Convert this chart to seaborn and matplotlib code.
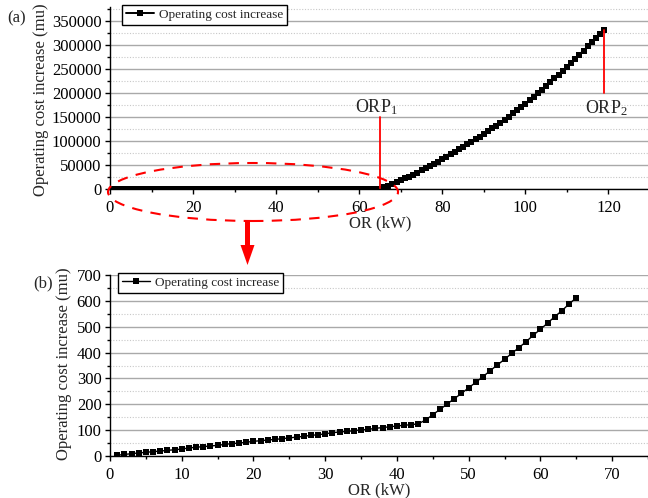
"""Operating cost increase vs OR, full range (a) and zoomed low range (b)."""

import matplotlib
matplotlib.use("Agg")
import matplotlib.pyplot as plt
import numpy as np
import pandas as pd
import seaborn as sns
from matplotlib.patches import Ellipse, FancyArrow
from matplotlib.ticker import MultipleLocator

sns.set_theme(style="ticks")
plt.rcParams["font.family"] = ["Liberation Serif", "DejaVu Serif"]
plt.rcParams.update({
    "mathtext.fontset": "custom",
    "mathtext.rm": "Liberation Serif",
    "mathtext.it": "Liberation Serif:italic",
    "mathtext.default": "rm",
    "axes.edgecolor": "black",
    "axes.linewidth": 1.0,
})

# low range (b): OR 1..65 kW, cost in mu
or_low = list(range(1, 66))
cost_low = [3, 6, 9, 12, 14, 17, 19, 22, 24, 27, 31, 34, 36, 39, 41, 45, 48, 50,
            53, 57, 59, 62, 64, 67, 70, 73, 76, 80, 82, 86, 90, 93, 95, 98, 101,
            103, 107, 110, 113, 116, 119, 121, 125, 139, 160, 180, 201, 222, 242,
            264, 285, 307, 330, 352, 374, 397, 419, 442, 467, 490, 514, 539, 562,
            588, 612]

# high range part of (a): OR 66..119 kW
or_high = list(range(66, 120))
cost_high = [3400, 7000, 10600, 14300, 18000, 22000, 26000, 30100, 34300, 38700,
             43100, 47700, 52400, 57200, 62100, 67000, 72000, 77100, 82300, 87600,
             92800, 98100, 103500, 109000, 114500, 120300, 126200, 132200, 138300,
             144500, 150900, 157400, 164100, 170900, 177800, 184900, 192100,
             199500, 207000, 214600, 222400, 230300, 238400, 246500, 254800,
             263100, 271500, 280000, 288500, 297100, 305700, 314300, 323000,
             331900]

orp1_x, orp1_top = 65, 150000
orp2_x, orp2_bottom = 119, 200000

LABEL = "Operating cost increase"

full_df = pd.DataFrame({"OR": or_low + or_high, "cost": cost_low + cost_high})
low_df = pd.DataFrame({"OR": or_low, "cost": cost_low})

fig = plt.figure(figsize=(6.48, 4.98), dpi=100)
ax_a = fig.add_axes([110 / 648, 1 - 189 / 498, 540 / 648, 182.4 / 498])
ax_b = fig.add_axes([110 / 648, 1 - 456 / 498, 538 / 648, 181 / 498])


def style_axes(ax, major_y, minor_y, major_x, minor_x, xpad):
    ax.yaxis.set_major_locator(MultipleLocator(major_y))
    ax.yaxis.set_minor_locator(MultipleLocator(minor_y))
    ax.xaxis.set_major_locator(MultipleLocator(major_x))
    ax.xaxis.set_minor_locator(MultipleLocator(minor_x))
    ax.grid(axis="y", which="major", color="#a9a9a9", linewidth=1.0, linestyle="-")
    ax.grid(axis="y", which="minor", color="#c8c8c8", linewidth=0.8, linestyle=(0, (1, 1.5)))
    ax.grid(axis="x", visible=False)
    ax.set_axisbelow(True)
    for side in ("top", "right"):
        ax.spines[side].set_visible(False)
    ax.tick_params(which="major", direction="out", length=3.6, width=1, labelsize=12,
                   colors="black")
    ax.tick_params(which="minor", direction="out", length=2.2, width=1, colors="black")
    ax.tick_params(axis="y", which="major", pad=2.5)
    ax.tick_params(axis="x", which="major", pad=xpad)
    ax.set_ylabel("Operating cost increase (mu)", fontsize=12)
    ax.set_xlabel("OR (kW)", fontsize=12, labelpad=0)


# (a)
sns.lineplot(data=full_df, x="OR", y="cost", ax=ax_a, color="black", linewidth=1.4,
             marker="s", markersize=4.2, markeredgewidth=0, label=LABEL)
ax_a.set_xlim(0, 130)
ax_a.set_ylim(0, 380000)
style_axes(ax_a, 50000, 25000, 20, 10, xpad=4.5)
ax_a.xaxis.set_label_coords(0.5, (189 - 215) / 182.4)
ax_a.yaxis.set_label_coords((49 - 110) / 540, (189 - 100) / 182.4)

ax_a.plot([orp1_x, orp1_x], [0, orp1_top], color="red", linewidth=1.3)
ax_a.plot([orp2_x, orp2_x], [orp2_bottom, cost_high[-1]], color="red", linewidth=1.3)
ax_a.text(64.2, 150000, "ORP$_1$", ha="center", va="bottom", fontsize=13)
ax_a.text(119.6, 188000, "ORP$_2$", ha="center", va="top", fontsize=13)

leg_a = ax_a.legend(loc="upper left", bbox_to_anchor=((122 - 110) / 540, 1.01),
                    borderaxespad=0, fontsize=9.5, frameon=True, fancybox=False,
                    edgecolor="black", framealpha=1, handlelength=2.1,
                    handletextpad=0.4, borderpad=0.3)
leg_a.get_frame().set_linewidth(1.0)

# (b)
sns.lineplot(data=low_df, x="OR", y="cost", ax=ax_b, color="black", linewidth=1.0,
             marker="s", markersize=5, markeredgewidth=0, label=LABEL)
ax_b.set_xlim(0, 75)
ax_b.set_ylim(0, 700)
style_axes(ax_b, 100, 50, 10, 5, xpad=4.5)
ax_b.xaxis.set_label_coords(0.5, (456 - 482.5) / 181)
ax_b.yaxis.set_label_coords((72 - 110) / 538, (456 - 364) / 181)

leg_b = ax_b.legend(loc="upper left", bbox_to_anchor=((118 - 110) / 538, 1.012),
                    borderaxespad=0, fontsize=9.5, frameon=True, fancybox=False,
                    edgecolor="black", framealpha=1, handlelength=2.1,
                    handletextpad=0.4, borderpad=0.3)
leg_b.get_frame().set_linewidth(1.0)

# panel tags
fig.text(17 / 648, 1 - 18 / 498, "(a)", ha="center", va="center", fontsize=12)
fig.text(43 / 648, 1 - 283 / 498, "(b)", ha="center", va="center", fontsize=12)

# dashed ellipse around the low range and arrow to the zoom panel (inches)
ell = Ellipse((2.53, (498 - 192) / 100), 2.90, 0.58, fill=False, edgecolor="red",
              linewidth=1.5, linestyle=(0, (5, 4)), transform=fig.dpi_scale_trans)
fig.add_artist(ell)
arrow = FancyArrow(2.475, (498 - 222) / 100, 0, -0.43, width=0.05, head_width=0.14,
                   head_length=0.2, length_includes_head=True, color="red",
                   linewidth=0, transform=fig.dpi_scale_trans)
fig.add_artist(arrow)

fig.savefig("out.png", dpi=100)
plt.close(fig)
